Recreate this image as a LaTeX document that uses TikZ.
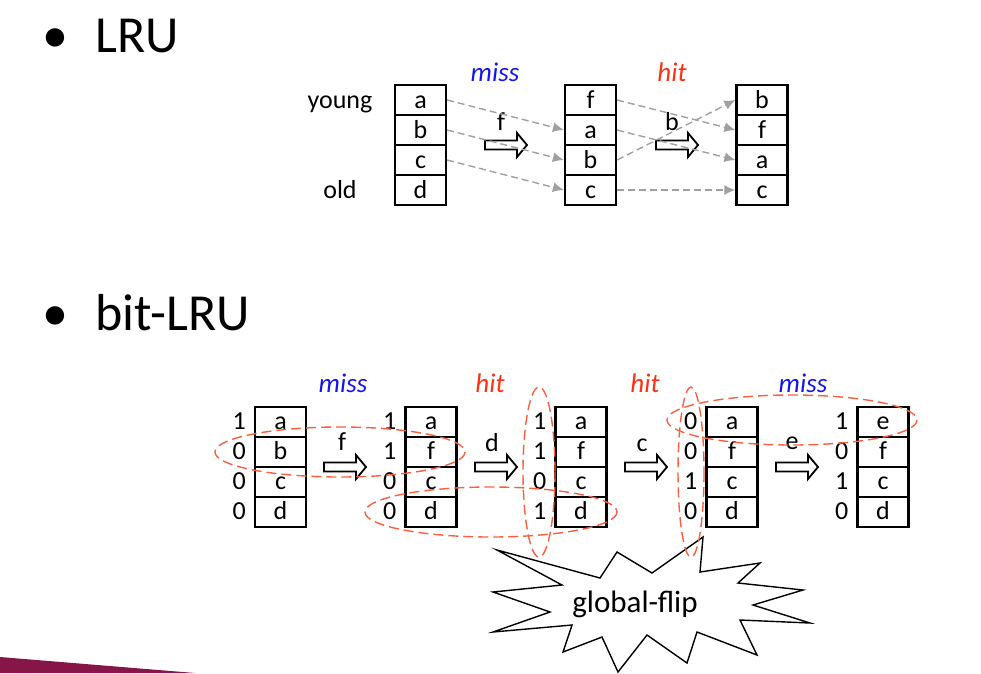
\documentclass[tikz,border=0pt]{standalone}
\usepackage{fontspec}
\setmainfont{Carlito}
\usetikzlibrary{arrows.meta, positioning}
\definecolor{missB}{RGB}{20,20,235}
\definecolor{hitR}{RGB}{250,50,20}
\definecolor{flipR}{RGB}{250,95,65}
\definecolor{moveG}{RGB}{160,160,160}
\definecolor{barM}{RGB}{135,22,72}
\newcommand{\fsz}[1]{\fontsize{#1}{#1}\selectfont}
\tikzset{
  cell/.style={draw, line width=2.2pt, minimum width=51pt, minimum height=30pt, inner sep=0pt,
    text height=19pt, text depth=3pt, font=\fsz{26}},
  bitlbl/.style={inner sep=0pt, text height=19pt, text depth=3pt, font=\fsz{26}},
  sidelbl/.style={inner sep=0pt, text height=19pt, text depth=3pt, font=\fsz{26}},
  movearr/.style={moveG, line width=1.4pt, dash pattern=on 7pt off 4pt, -{Latex[length=11pt,width=10pt]}},
  steparrow/.pic={\draw[line width=1.8pt, fill=white] (-21,-4.5) -- (11,-4.5) -- (11,-12) -- (21,0)
    -- (11,12) -- (11,4.5) -- (-21,4.5) -- cycle;},
  steplbl/.style={inner sep=0pt, font=\fsz{26}},
  caselbl/.style={inner sep=0pt, font=\fsz{27}\itshape},
  flipring/.style={flipR, line width=1.4pt, dash pattern=on 10pt off 5pt},
  heading/.style={inner sep=0pt, anchor=base west, font=\fsz{52}},
}
\begin{document}
\begin{tikzpicture}[x=1pt, y=-1pt]
\useasboundingbox (0,0) rectangle (981,673);
% bottom-left bar
\fill[barM] (0,657) -- (195,673) -- (0,673) -- cycle;
% headings
\node[heading] (dot1) at (42,52) {•};
\node[heading] (head1) at (95,52) {LRU};
\node[heading] (dot2) at (42,330) {•};
\node[heading] (head2) at (95,330) {bit-LRU};

% ---- LRU: three states ----
\foreach \lbl [count=\r from 0] in {a,b,c,d} \node[cell] (A\r) at (420.5,100+30*\r) {\lbl};
\foreach \lbl [count=\r from 0] in {f,a,b,c} \node[cell] (B\r) at (590.5,100+30*\r) {\lbl};
\foreach \lbl [count=\r from 0] in {b,f,a,c} \node[cell] (C\r) at (762,100+30*\r) {\lbl};
\node[sidelbl] (young) at (340,100) {young};
\node[sidelbl] (old) at (340,190) {old};
\node[caselbl, missB] (miss1) at (495,72) {miss};
\node[caselbl, hitR] (hit1) at (672,72) {hit};
% transitions
\pic at (506,145) {steparrow};
\node[steplbl] (s1l) at (501,122) {f};
\pic at (677,145) {steparrow};
\node[steplbl] (s2l) at (672,122) {b};
% where each block goes
\draw[movearr] (A0.east) -- (B1.west);
\draw[movearr] (A1.east) -- (B2.west);
\draw[movearr] (A2.east) -- (B3.west);
\draw[movearr] (B0.east) -- (C1.west);
\draw[movearr] (B1.east) -- (C2.west);
\draw[movearr] (B2.east) -- (C0.west);
\draw[movearr] (B3.east) -- (C3.west);

% ---- bit-LRU: five states ----
\foreach \lbl/\b [count=\r from 0] in {a/1,b/0,c/0,d/0} {
  \node[cell] (P\r) at (280.5,421.7+30*\r) {\lbl};
  \node[bitlbl, left=8pt of P\r] (pb\r) {\b};
}
\foreach \lbl/\b [count=\r from 0] in {a/1,f/1,c/0,d/0} {
  \node[cell] (Q\r) at (431,421.7+30*\r) {\lbl};
  \node[bitlbl, left=8pt of Q\r] (qb\r) {\b};
}
\foreach \lbl/\b [count=\r from 0] in {a/1,f/1,c/0,d/1} {
  \node[cell] (R\r) at (581,421.7+30*\r) {\lbl};
  \node[bitlbl, left=8pt of R\r] (rb\r) {\b};
}
\foreach \lbl/\b [count=\r from 0] in {a/0,f/0,c/1,d/0} {
  \node[cell] (S\r) at (732,421.7+30*\r) {\lbl};
  \node[bitlbl, left=8pt of S\r] (sb\r) {\b};
}
\foreach \lbl/\b [count=\r from 0] in {e/1,f/0,c/1,d/0} {
  \node[cell] (T\r) at (883,421.7+30*\r) {\lbl};
  \node[bitlbl, left=8pt of T\r] (tb\r) {\b};
}
\node[caselbl, missB] (miss2) at (343,383) {miss};
\node[caselbl, hitR] (hit2) at (490,383) {hit};
\node[caselbl, hitR] (hit3) at (645,383) {hit};
\node[caselbl, missB] (miss3) at (803,383) {miss};
\pic at (345,467) {steparrow};
\node[steplbl] (t1l) at (342,442) {f};
\pic at (496,467) {steparrow};
\node[steplbl] (t2l) at (492,443) {d};
\pic at (646,467) {steparrow};
\node[steplbl] (t3l) at (642,445) {c};
\pic at (797,467) {steparrow};
\node[steplbl] (t4l) at (792,443) {e};

% starburst
\draw[line width=1.4pt, fill=white] (497,550) -- (600,578) -- (617,552) -- (652,573) -- (703,537)
  -- (700,572) -- (760,563) -- (738,583) -- (803,590) -- (753,605) -- (810,623) -- (740,620)
  -- (757,655) -- (697,632) -- (687,663) -- (647,635) -- (618,672) -- (602,637) -- (563,652)
  -- (572,625) -- (493,632) -- (550,612) -- (493,592) -- (562,585) -- cycle;
\node[font=\fsz{31}, inner sep=0pt] (flip) at (635,604) {global-flip};

% bits touched on each step
\draw[flipring] (340,452) ellipse [x radius=125, y radius=25];
\draw[flipring] (491,512) ellipse [x radius=126, y radius=25];
\draw[flipring] (539,472) ellipse [x radius=16, y radius=85];
\draw[flipring] (691,472) ellipse [x radius=13, y radius=85];
\draw[flipring] (792,420) ellipse [x radius=125, y radius=25];
\end{tikzpicture}
\end{document}
